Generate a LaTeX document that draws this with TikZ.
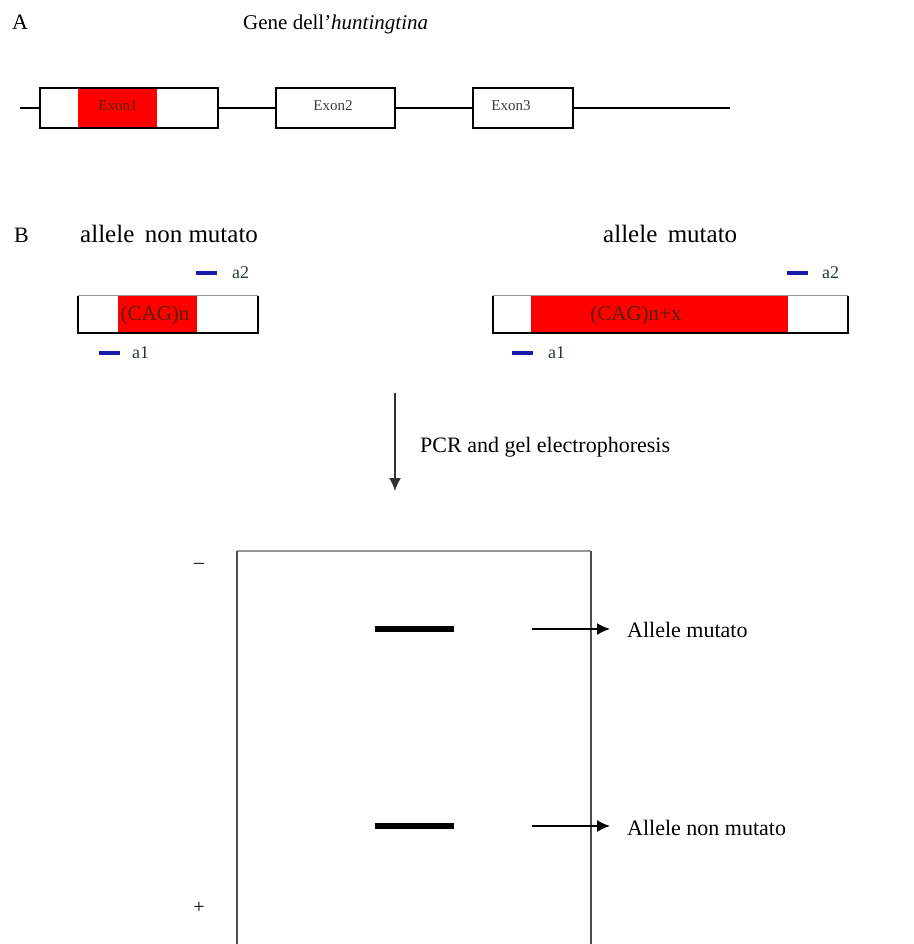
\documentclass[tikz,border=0pt]{standalone}
\usepackage{fontspec}
\setmainfont{Liberation Serif}
\usetikzlibrary{arrows.meta}
\definecolor{exred}{RGB}{255,0,0}
\definecolor{primerblue}{RGB}{25,25,170}
\definecolor{primertext}{RGB}{40,60,40}
\definecolor{cagtext}{RGB}{85,35,5}
\definecolor{exontext}{RGB}{60,60,60}
\definecolor{edgegray}{RGB}{150,150,150}
\tikzset{
  exonbox/.style={draw=black,line width=1.8pt,rectangle,inner sep=0pt,minimum height=40pt},
  redpart/.style={fill=exred,rectangle,inner sep=0pt,draw=none},
  exontxt/.style={font=\fontsize{15}{17}\selectfont,text=exontext,inner sep=0pt},
  cagtxt/.style={font=\fontsize{21}{24}\selectfont,text=cagtext,inner sep=0pt},
  bigtxt/.style={font=\fontsize{21}{24}\selectfont,inner sep=0pt,anchor=base west},
  alleletxt/.style={font=\fontsize{25}{28}\selectfont,inner sep=0pt,anchor=base west},
  midtxt/.style={font=\fontsize{22}{25}\selectfont,inner sep=0pt,anchor=base west},
  primerbar/.style={fill=primerblue,rectangle,inner sep=0pt,minimum width=21pt,minimum height=4.5pt},
  primertxt/.style={font=\fontsize{18}{20}\selectfont,text=primertext,inner sep=0pt,anchor=west},
  bandbar/.style={fill=black,rectangle,inner sep=0pt,minimum width=79pt,minimum height=6pt},
  genel/.style={line width=1.4pt},
  allelebox/.style={rectangle,inner sep=0pt,minimum height=37pt},
  arr/.style={line width=1.5pt,-{Latex[length=13pt,width=12pt]}},
}
\begin{document}
\begin{tikzpicture}[x=1pt,y=-1pt]
\useasboundingbox[fill=white] (0,0) rectangle (913,944);

% ---------- Part A ----------
\node[bigtxt,font=\fontsize{22}{24}\selectfont] (labA) at (12,30) {A};
\node[bigtxt] (title) at (243,30) {Gene dell'\textit{huntingtina}};

\coordinate (gstart) at (20,108);
\coordinate (gend) at (730,108);
\node[redpart,minimum width=79pt,minimum height=40pt] (ex1red) at (117.5,108) {};
\node[exonbox,minimum width=178pt] (ex1) at (129,108) {};
\node[exonbox,minimum width=119pt] (ex2) at (335.5,108) {};
\node[exonbox,minimum width=100pt] (ex3) at (523,108) {};
\node[exontxt,text=cagtext] (t1) at (118,106) {Exon1};
\node[exontxt] (t2) at (333,106) {Exon2};
\node[exontxt] (t3) at (511,106) {Exon3};
\draw[genel] (gstart) -- (ex1.west);
\draw[genel] (ex1.east) -- (ex2.west);
\draw[genel] (ex2.east) -- (ex3.west);
\draw[genel] (ex3.east) -- (gend);

% ---------- Part B ----------
\node[bigtxt,font=\fontsize{22}{24}\selectfont] (labB) at (14,242) {B};
\node[alleletxt] (wtlab) at (80,242) {allele\, non mutato};
\node[alleletxt] (mutlab) at (603,242) {allele\, mutato};

% wild-type allele
\node[redpart,minimum width=79pt,minimum height=37pt] (wtred) at (157.5,314.5) {};
\node[allelebox,minimum width=180pt] (wt) at (168,314.5) {};
\draw[edgegray,line width=1.2pt] (wt.north west) -- (wt.north east);
\draw[line width=1.8pt] (wt.north west) -- (wt.south west) -- (wt.south east) -- (wt.north east);
\node[cagtxt] (wtcag) at (155,315) {(CAG)n};

% mutated allele
\node[redpart,minimum width=257pt,minimum height=37pt] (mutred) at (659.5,314.5) {};
\node[allelebox,minimum width=355pt] (mut) at (670.5,314.5) {};
\draw[edgegray,line width=1.2pt] (mut.north west) -- (mut.north east);
\draw[line width=1.8pt] (mut.north west) -- (mut.south west) -- (mut.south east) -- (mut.north east);
\node[cagtxt] (mutcag) at (636,315) {(CAG)n+x};

% primers
\node[primerbar] (wtp2) at (206,273) {};
\node[primertxt] (wtp2t) at (232,273) {a2};
\node[primerbar] (wtp1) at (109,353) {};
\node[primertxt] (wtp1t) at (132,353) {a1};
\node[primerbar] (mutp2) at (797.5,273) {};
\node[primertxt] (mutp2t) at (822,273) {a2};
\node[primerbar] (mutp1) at (522,353) {};
\node[primertxt] (mutp1t) at (548,353) {a1};

% PCR arrow
\coordinate (pcrtop) at (395,393);
\coordinate (pcrbot) at (395,491);
\draw[arr,black!80] (pcrtop) -- (pcrbot);
\node[midtxt] (pcr) at (420,452) {PCR and gel electrophoresis};

% ---------- Gel ----------
\coordinate (gtl) at (237,551);
\coordinate (gtr) at (591,551);
\coordinate (gbl) at (237,946);
\coordinate (gbr) at (591,946);
\draw[edgegray,line width=1.3pt] (gtl) -- (gtr);
\draw[black!70,line width=1.8pt] (gtl) -- (gbl);
\draw[black!70,line width=1.8pt] (gtr) -- (gbr);
\node[font=\fontsize{20}{22}\selectfont,inner sep=0pt] (minus) at (199,566) {\textendash};
\node[font=\fontsize{20}{22}\selectfont,inner sep=0pt] (plus) at (199,908) {+};

\node[bandbar] (bandmut) at (414.5,629) {};
\node[bandbar] (bandwt) at (414.5,826) {};

\node[midtxt] (lmut) at (627,637) {Allele mutato};
\node[midtxt] (lwt) at (627,835) {Allele non mutato};
\coordinate (amut) at (532,629);
\coordinate (awt) at (532,826);
\draw[arr,shorten >=17pt] (amut) -- (lmut.west |- amut);
\draw[arr,shorten >=17pt] (awt) -- (lwt.west |- awt);
\end{tikzpicture}
\end{document}
